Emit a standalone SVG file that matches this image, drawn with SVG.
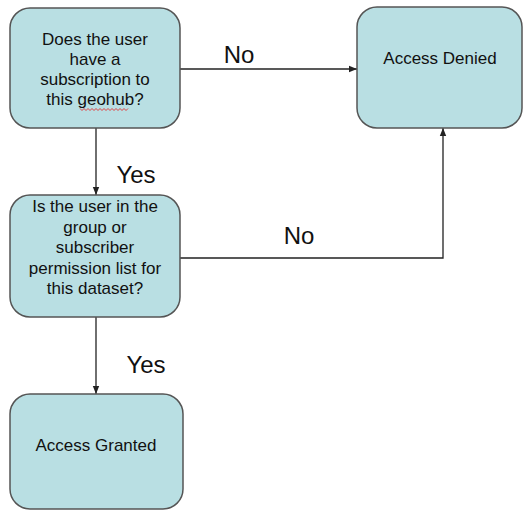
<svg xmlns="http://www.w3.org/2000/svg" width="529" height="511" viewBox="0 0 529 511">
  <style>
    .box { fill: #b9dfe3; stroke: #555; stroke-width: 1.5; }
    .txt { font-family: "Liberation Sans", Arial, sans-serif; font-size: 17px; fill: #111; text-anchor: middle; }
    .lbl { font-family: "Liberation Sans", Arial, sans-serif; font-size: 24px; fill: #111; text-anchor: middle; }
    .edge { fill: none; stroke: #222; stroke-width: 1.3; }
  </style>
  <defs>
    <marker id="arrow" viewBox="0 0 10 10" refX="10" refY="5" markerWidth="8" markerHeight="8" markerUnits="userSpaceOnUse" orient="auto">
      <path d="M0,1 L10,5 L0,9 Z" fill="#222"/>
    </marker>
  </defs>
  <rect width="529" height="511" fill="#fff"/>

  <g id="connectors">
    <line class="edge" x1="180" y1="69" x2="357" y2="69" marker-end="url(#arrow)"/>
    <line class="edge" x1="96" y1="128" x2="96" y2="195" marker-end="url(#arrow)"/>
    <polyline class="edge" points="180,258 443,258 443,128" marker-end="url(#arrow)"/>
    <line class="edge" x1="96" y1="317" x2="96" y2="394" marker-end="url(#arrow)"/>
    <text class="lbl" x="239" y="63">No</text>
    <text class="lbl" x="136" y="183">Yes</text>
    <text class="lbl" x="299" y="244">No</text>
    <text class="lbl" x="146" y="373">Yes</text>
  </g>

  <g id="subscription">
    <rect class="box" x="10" y="8" width="170" height="120" rx="20"/>
    <text class="txt" x="95" y="45">Does the user</text>
    <text class="txt" x="95" y="65">have a</text>
    <text class="txt" x="95" y="85">subscription to</text>
    <text class="txt" x="95" y="105">this geohub?</text>
    <!-- spell-check underline -->
    <path d="M80,108.5 l2,2 l2,-2 l2,2 l2,-2 l2,2 l2,-2 l2,2 l2,-2 l2,2 l2,-2 l2,2 l2,-2 l2,2 l2,-2 l2,2 l2,-2 l2,2 l2,-2 l2,2 l2,-2 l2,2 l2,-2 l2,2 l2,-2" fill="none" stroke="#e03030" stroke-width="0.9"/>
  </g>

  <g id="denied">
    <rect class="box" x="357" y="7" width="165" height="121" rx="20"/>
    <text class="txt" x="440" y="64">Access Denied</text>
  </g>

  <g id="permission">
    <rect class="box" x="10" y="195" width="170" height="122" rx="20"/>
    <text class="txt" x="95" y="212">Is the user in the</text>
    <text class="txt" x="95" y="232.5">group or</text>
    <text class="txt" x="95" y="253">subscriber</text>
    <text class="txt" x="95" y="273.5">permission list for</text>
    <text class="txt" x="95" y="294">this dataset?</text>
  </g>

  <g id="granted">
    <rect class="box" x="10" y="394" width="173" height="115" rx="20"/>
    <text class="txt" x="96" y="451">Access Granted</text>
  </g>
</svg>
